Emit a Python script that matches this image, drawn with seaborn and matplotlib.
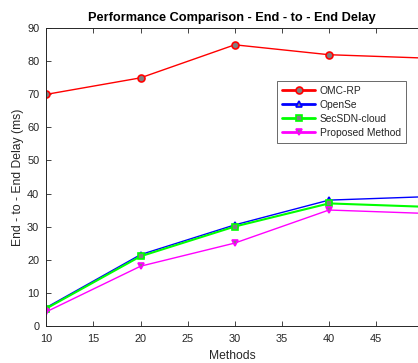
import numpy as np
import pandas as pd
import matplotlib
matplotlib.use("Agg")
import matplotlib.pyplot as plt
import seaborn as sns

x_vals = [10, 20, 30, 40, 50]
omc_rp = [70, 75, 85, 82, 81]
opense = [5.5, 21.5, 30.5, 38, 39]
secsdn = [5.2, 21, 30, 37, 36]
proposed = [4.2, 18, 25, 35, 34]
series_names = ["OMC-RP", "OpenSe", "SecSDN-cloud", "Proposed Method"]

sns.set_theme(style="white")
plt.rcParams["font.family"] = ["Liberation Sans", "DejaVu Sans"]

fig = plt.figure(figsize=(4.18, 3.63), dpi=100)
ax = fig.add_axes([0.1108, 0.1028, 0.8892, 0.8193])

styles = [
    (omc_rp, "#ff0000", "o", 1.0, 5.0),
    (opense, "#0000ff", "^", 1.0, 5.0),
    (secsdn, "#00ff00", "s", 1.5, 4.0),
    (proposed, "#ff00ff", "v", 1.0, 5.0),
]
for name, (vals, col, mk, lw, ms) in zip(series_names, styles):
    df = pd.DataFrame({"x": x_vals, "y": vals})
    sns.lineplot(data=df, x="x", y="y", ax=ax, color=col, marker=mk,
                 markersize=ms, markerfacecolor="#808080", markeredgecolor=col,
                 markeredgewidth=1.2, linewidth=lw, label=name)

ax.set_xlim(10, 49.45)
ax.set_ylim(0, 90)
ax.set_xticks([10, 15, 20, 25, 30, 35, 40, 45])
ax.set_yticks(np.arange(0, 91, 10))
ax.tick_params(direction="in", length=3.5, width=0.6, colors="#262626",
               labelsize=7.9, top=True, bottom=True, left=True, right=False)
ax.tick_params(axis="x", pad=6)
ax.tick_params(axis="y", pad=5)
for s in ["left", "bottom", "top"]:
    ax.spines[s].set_color("#262626")
    ax.spines[s].set_linewidth(0.7)
ax.spines["right"].set_visible(False)

ax.set_title("Performance Comparison - End - to - End Delay", fontsize=9.2,
             fontweight="bold", color="black", pad=5)
ax.set_xlabel("Methods", fontsize=8.7, color="#262626", labelpad=4)
ax.set_ylabel("End - to - End Delay (ms)", fontsize=8.7, color="#262626", labelpad=2)

leg = ax.legend(loc="upper left", bbox_to_anchor=(0.6207, 0.823), fontsize=7.4,
                frameon=True, fancybox=False, borderpad=0.5, handlelength=3.2,
                handletextpad=0.45, labelspacing=0.38, borderaxespad=0)
leg.get_frame().set_edgecolor("#262626")
leg.get_frame().set_linewidth(0.6)
for lh in leg.get_lines():
    lh.set_linewidth(2.0)

fig.savefig("out.png", dpi=100)
